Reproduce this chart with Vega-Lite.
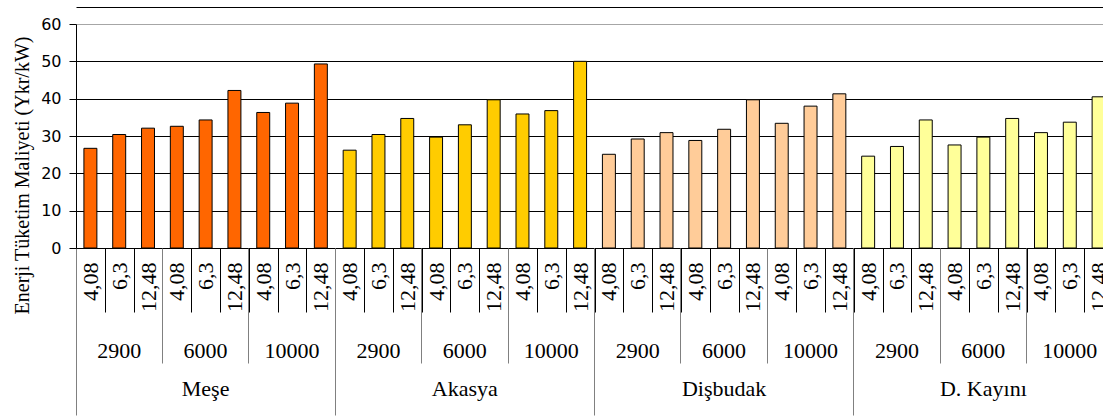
{
  "$schema": "https://vega.github.io/schema/vega-lite/v6.json",
  "width": 1027,
  "height": 224,
  "autosize": {"type": "none"},
  "padding": {"left": 76, "top": 24, "right": 0, "bottom": 170},
  "background": "white",
  "config": {"view": {"stroke": null}},
  "data": {
    "values": [
      {"key": "Meşe|2900|4,08", "species": "Meşe", "value": 26.7},
      {"key": "Meşe|2900|6,3", "species": "Meşe", "value": 30.4},
      {"key": "Meşe|2900|12,48", "species": "Meşe", "value": 32.1},
      {"key": "Meşe|6000|4,08", "species": "Meşe", "value": 32.6},
      {"key": "Meşe|6000|6,3", "species": "Meşe", "value": 34.3},
      {"key": "Meşe|6000|12,48", "species": "Meşe", "value": 42.2},
      {"key": "Meşe|10000|4,08", "species": "Meşe", "value": 36.3},
      {"key": "Meşe|10000|6,3", "species": "Meşe", "value": 38.8},
      {"key": "Meşe|10000|12,48", "species": "Meşe", "value": 49.3},
      {"key": "Akasya|2900|4,08", "species": "Akasya", "value": 26.2},
      {"key": "Akasya|2900|6,3", "species": "Akasya", "value": 30.4},
      {"key": "Akasya|2900|12,48", "species": "Akasya", "value": 34.7},
      {"key": "Akasya|6000|4,08", "species": "Akasya", "value": 29.7},
      {"key": "Akasya|6000|6,3", "species": "Akasya", "value": 33.0},
      {"key": "Akasya|6000|12,48", "species": "Akasya", "value": 39.7},
      {"key": "Akasya|10000|4,08", "species": "Akasya", "value": 35.9},
      {"key": "Akasya|10000|6,3", "species": "Akasya", "value": 36.8},
      {"key": "Akasya|10000|12,48", "species": "Akasya", "value": 50.0},
      {"key": "Dişbudak|2900|4,08", "species": "Dişbudak", "value": 25.1},
      {"key": "Dişbudak|2900|6,3", "species": "Dişbudak", "value": 29.2},
      {"key": "Dişbudak|2900|12,48", "species": "Dişbudak", "value": 30.9},
      {"key": "Dişbudak|6000|4,08", "species": "Dişbudak", "value": 28.8},
      {"key": "Dişbudak|6000|6,3", "species": "Dişbudak", "value": 31.8},
      {"key": "Dişbudak|6000|12,48", "species": "Dişbudak", "value": 39.7},
      {"key": "Dişbudak|10000|4,08", "species": "Dişbudak", "value": 33.4},
      {"key": "Dişbudak|10000|6,3", "species": "Dişbudak", "value": 38.0},
      {"key": "Dişbudak|10000|12,48", "species": "Dişbudak", "value": 41.3},
      {"key": "D. Kayını|2900|4,08", "species": "D. Kayını", "value": 24.6},
      {"key": "D. Kayını|2900|6,3", "species": "D. Kayını", "value": 27.2},
      {"key": "D. Kayını|2900|12,48", "species": "D. Kayını", "value": 34.3},
      {"key": "D. Kayını|6000|4,08", "species": "D. Kayını", "value": 27.6},
      {"key": "D. Kayını|6000|6,3", "species": "D. Kayını", "value": 29.7},
      {"key": "D. Kayını|6000|12,48", "species": "D. Kayını", "value": 34.7},
      {"key": "D. Kayını|10000|4,08", "species": "D. Kayını", "value": 30.9},
      {"key": "D. Kayını|10000|6,3", "species": "D. Kayını", "value": 33.7},
      {"key": "D. Kayını|10000|12,48", "species": "D. Kayını", "value": 40.5}
    ]
  },
  "encoding": {
    "y": {
      "field": "value", "type": "quantitative",
      "scale": {"domain": [0, 60], "nice": false},
      "axis": {
        "orient": "left",
        "title": "Enerji Tüketim Maliyeti (Ykr/kW)",
        "values": [0, 10, 20, 30, 40, 50, 60],
        "labelOverlap": false,
        "domainColor": "#000", "tickColor": "#000", "tickSize": 7,
        "labelPadding": 8, "labelFont": "DejaVu Sans", "labelFontSize": 16, "labelColor": "#000",
        "titleFont": "Liberation Serif", "titleFontSize": 20, "titleFontWeight": "normal", "titleColor": "#000",
        "titlePadding": 8, "titleY": 151,
        "grid": true, "gridOpacity": 1,
        "gridColor": {"condition": {"test": "datum.value === 60", "value": "#a6a6a6"}, "value": "#000"}
      }
    }
  },
  "layer": [
    {
      "mark": {"type": "bar", "width": {"band": 0.45}, "stroke": "#000", "strokeWidth": 1, "clip": true},
      "encoding": {
        "x": {
          "field": "key", "type": "nominal", "sort": null,
          "scale": {"range": [0, 1037], "paddingInner": 0, "paddingOuter": 0},
          "axis": {
            "orient": "bottom", "title": null, "grid": false,
            "domain": true, "domainColor": "#000",
            "ticks": true, "tickBand": "extent", "tickSize": 64, "tickColor": "#000",
            "labelAngle": -90, "labelPadding": -50, "labelOverlap": false,
            "labelExpr": "split(datum.label, '|')[2]",
            "labelFont": "Liberation Serif", "labelFontSize": 22, "labelColor": "#000"
          }
        },
        "color": {
          "field": "species", "type": "nominal", "legend": null,
          "scale": {"domain": ["Meşe", "Akasya", "Dişbudak", "D. Kayını"], "range": ["#FF6600", "#FFCC00", "#FFCC99", "#FFFF99"]}
        }
      }
    },
    {
      "mark": {"type": "bar", "opacity": 0},
      "encoding": {
        "x": {
          "field": "key", "type": "nominal", "sort": null,
          "axis": {
            "orient": "bottom", "title": null, "grid": false, "domain": false,
            "values": ["Meşe|2900|4,08", "Meşe|6000|4,08", "Meşe|10000|4,08", "Akasya|2900|4,08", "Akasya|6000|4,08", "Akasya|10000|4,08", "Dişbudak|2900|4,08", "Dişbudak|6000|4,08", "Dişbudak|10000|4,08", "D. Kayını|2900|4,08", "D. Kayını|6000|4,08", "D. Kayını|10000|4,08"],
            "bandPosition": 0, "tickSize": 115, "tickColor": "#808080",
            "labelAngle": 0, "labelAlign": "center", "labelBaseline": "top",
            "labelOffset": 28.8, "labelPadding": -23, "labelOverlap": false,
            "labelExpr": "split(datum.label, '|')[1]",
            "labelFont": "Liberation Serif", "labelFontSize": 22, "labelColor": "#000"
          }
        }
      }
    },
    {
      "mark": {"type": "bar", "opacity": 0},
      "encoding": {
        "x": {
          "field": "key", "type": "nominal", "sort": null,
          "axis": {
            "orient": "bottom", "title": null, "grid": false, "domain": false,
            "values": ["Meşe|2900|4,08", "Akasya|2900|4,08", "Dişbudak|2900|4,08", "D. Kayını|2900|4,08"],
            "bandPosition": 0, "tickSize": 167, "tickColor": "#808080",
            "labelAngle": 0, "labelAlign": "center", "labelBaseline": "top",
            "labelOffset": 115.2, "labelPadding": -37, "labelOverlap": false,
            "labelExpr": "split(datum.label, '|')[0]",
            "labelFont": "Liberation Serif", "labelFontSize": 22, "labelColor": "#000"
          }
        }
      }
    },
    {
      "mark": {"type": "bar", "opacity": 0},
      "encoding": {
        "x": {
          "field": "key", "type": "nominal", "sort": null,
          "axis": {
            "orient": "top", "title": null, "grid": false, "domain": true, "domainColor": "#000",
            "offset": 17, "ticks": false, "labels": false
          }
        }
      }
    }
  ],
  "resolve": {"axis": {"x": "independent"}}
}
